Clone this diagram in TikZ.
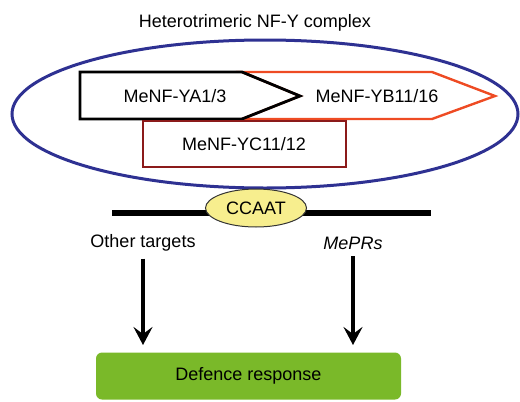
\documentclass[tikz,border=0pt]{standalone}
\usepackage{fontspec}
\setmainfont{Liberation Sans}
\usetikzlibrary{arrows.meta,shapes.geometric}
\definecolor{ellblue}{HTML}{2E3192}
\definecolor{ybred}{HTML}{EE4B23}
\definecolor{ycred}{HTML}{8B1A1A}
\definecolor{ccyellow}{HTML}{F7EE8E}
\definecolor{dgreen}{HTML}{7AB929}
\tikzset{
  lab/.style={font=\fontsize{18}{21}\selectfont, inner sep=0pt},
  arr/.style={line width=3.2pt, -{Stealth[length=18pt,width=19pt,inset=7pt]}}
}
\begin{document}
\begin{tikzpicture}[x=1pt,y=-1pt]
\useasboundingbox (0,0) rectangle (520,402);
\node[lab] (title) at (255,23) {Heterotrimeric NF-Y complex};
\draw[ellblue, line width=3pt] (265,114) ellipse [x radius=253, y radius=74];
\coordinate (ya1) at (80,72);
\coordinate (ya2) at (242,72);
\coordinate (yp) at (300,96);
\coordinate (ya3) at (242,119);
\coordinate (ya4) at (80,119);
\coordinate (yb2) at (432,72);
\coordinate (yb3) at (495,96);
\coordinate (yb4) at (432,119);
\draw[ybred, line width=2.4pt, line join=miter] (ya2) -- (yb2) -- (yb3) -- (yb4) -- (ya3) -- (yp) -- cycle;
\draw[black, line width=2.8pt, line join=miter] (ya1) -- (ya2) -- (yp) -- (ya3) -- (ya4) -- cycle;
\node[lab] (ya) at (175,96) {MeNF-YA1/3};
\node[lab] (yb) at (377,96) {MeNF-YB11/16};
\draw[ycred, line width=2.6pt, fill=white] (143,121) rectangle (346,167);
\node[lab] (yc) at (244,144) {MeNF-YC11/12};
\coordinate (dnaL) at (112,213);
\coordinate (dnaR) at (431,213);
\draw[line width=6pt] (dnaL) -- (dnaR);
\node[ellipse, draw=black!80, line width=1pt, fill=ccyellow, minimum width=101pt, minimum height=38pt, inner sep=0pt, font=\fontsize{18}{21}\selectfont] (cc) at (256,208) {CCAAT};
\node[lab] (ot) at (143,243) {Other targets};
\node[lab, font=\fontsize{18}{21}\selectfont\itshape] (pr) at (353,243) {MePRs};
\node[fill=dgreen, rounded corners=6pt, minimum width=305pt, minimum height=47pt, inner sep=0pt, font=\fontsize{18}{21}\selectfont, text=black] (dr) at (248.5,376) {Defence response};
\draw[arr] (ot.south) ++(0,7) -- (143,345);
\draw[arr] (pr.south) ++(0,7) -- (353,345);
\end{tikzpicture}
\end{document}
